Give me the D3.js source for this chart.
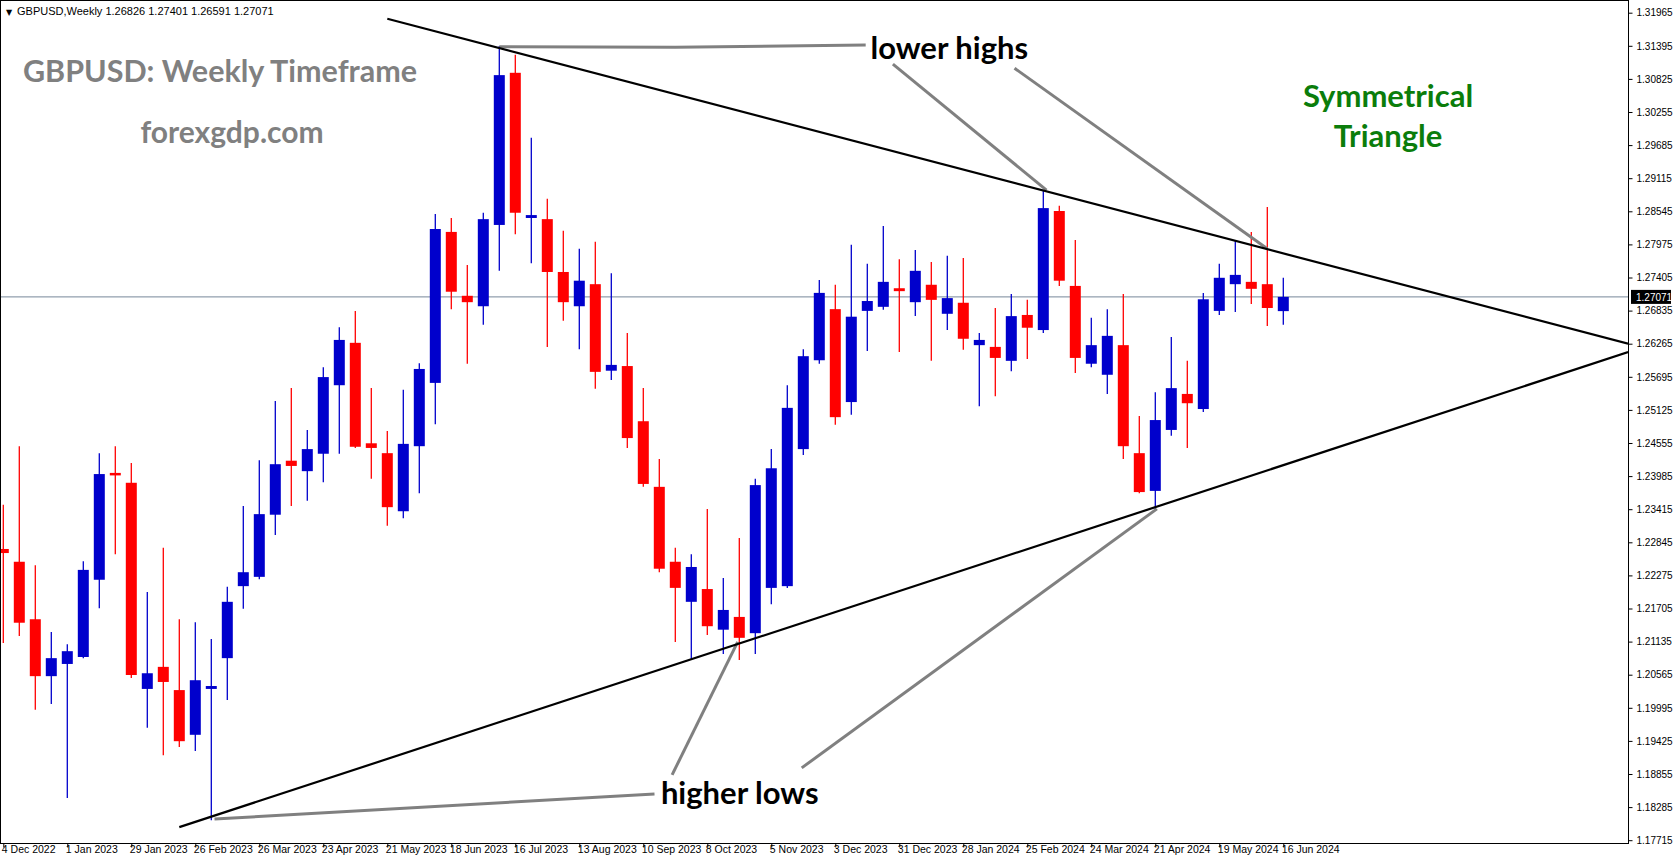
<!DOCTYPE html>
<html>
<head>
<meta charset="utf-8">
<script src="https://cdn.jsdelivr.net/npm/d3@7"></script>
<style>
  body { margin: 0; background: #fff; }
  svg { display: block; }
</style>
</head>
<body>
<svg id="chart" width="1673" height="861"></svg>
<script>
// weekly GBPUSD candles, 4 Dec 2022 .. 16 Jun 2024
const opens  = [1.2273,1.2251,1.2152,1.2054,1.2075,1.2087,1.2220,1.2404,1.2387,1.2032,1.2070,1.2030,1.1953,1.2032,1.2085,1.2209,1.2225,1.2332,1.2425,1.2407,1.2437,1.2555,1.2628,1.2455,1.2438,1.2338,1.2450,1.2559,1.2819,1.2709,1.2691,1.2831,1.3093,1.2843,1.2841,1.2750,1.2691,1.2729,1.2580,1.2588,1.2493,1.2380,1.2251,1.2182,1.2204,1.2134,1.2156,1.2128,1.2206,1.2209,1.2445,1.2598,1.2686,1.2526,1.2683,1.2690,1.2722,1.2698,1.2728,1.2678,1.2697,1.2624,1.2621,1.2597,1.2676,1.2650,1.2855,1.2726,1.2592,1.2573,1.2624,1.2438,1.2373,1.2478,1.2540,1.2514,1.2683,1.2729,1.2733,1.2729,1.26826];
const highs  = [1.2349,1.2450,1.2245,1.2130,1.2109,1.2252,1.2438,1.2450,1.2421,1.2199,1.2275,1.2152,1.2147,1.2118,1.2208,1.2347,1.2426,1.2528,1.2550,1.2478,1.2586,1.2655,1.2683,1.2550,1.2476,1.2547,1.2593,1.2850,1.2843,1.2762,1.2852,1.3139,1.3124,1.2981,1.2876,1.2821,1.2790,1.2802,1.2748,1.2645,1.2550,1.2428,1.2275,1.2264,1.2342,1.2223,1.2292,1.2394,1.2445,1.2555,1.2617,1.2736,1.2728,1.2797,1.2764,1.2829,1.2772,1.2788,1.2767,1.2778,1.2774,1.2645,1.2688,1.2712,1.2702,1.2891,1.2864,1.2805,1.2671,1.2686,1.2712,1.2502,1.2543,1.2638,1.2597,1.2714,1.2764,1.2805,1.2819,1.2862,1.27401];
const lows   = [1.2111,1.2123,1.1996,1.2006,1.1844,1.2085,1.2171,1.2264,1.2051,1.1965,1.1918,1.1932,1.1925,1.1806,1.2013,1.2170,1.2221,1.2297,1.2347,1.2356,1.2388,1.2437,1.2447,1.2394,1.2313,1.2326,1.2369,1.2488,1.2686,1.2592,1.2659,1.2752,1.2815,1.2765,1.2621,1.2666,1.2617,1.2549,1.2564,1.2447,1.2380,1.2233,1.2113,1.2082,1.2125,1.2092,1.2082,1.2092,1.2178,1.2206,1.2435,1.2592,1.2487,1.2504,1.2614,1.2685,1.2612,1.2674,1.2597,1.2650,1.2616,1.2519,1.2536,1.2579,1.2600,1.2645,1.2726,1.2576,1.2586,1.2540,1.2428,1.2369,1.2342,1.2468,1.2447,1.2509,1.2676,1.2681,1.2695,1.2657,1.26591];
const closes = [1.2266,1.2146,1.2054,1.2085,1.2097,1.2237,1.2402,1.2400,1.2056,1.2059,1.2044,1.1942,1.2047,1.2037,1.2182,1.2233,1.2333,1.2419,1.2416,1.2445,1.2569,1.2633,1.2449,1.2447,1.2345,1.2454,1.2583,1.2824,1.2716,1.2698,1.2841,1.3089,1.2852,1.2848,1.2750,1.2698,1.2735,1.2578,1.2590,1.2464,1.2385,1.2239,1.2206,1.2242,1.2140,1.2168,1.2120,1.2383,1.2412,1.2516,1.2605,1.2714,1.2500,1.2673,1.2700,1.2733,1.2717,1.2752,1.2702,1.2705,1.2635,1.2633,1.2602,1.2674,1.2654,1.2860,1.2735,1.2602,1.2624,1.2640,1.2450,1.2371,1.2495,1.2550,1.2524,1.2703,1.2740,1.2745,1.2721,1.2688,1.27071];

const dateLabels = ["4 Dec 2022","1 Jan 2023","29 Jan 2023","26 Feb 2023","26 Mar 2023","23 Apr 2023","21 May 2023","18 Jun 2023","16 Jul 2023","13 Aug 2023","10 Sep 2023","8 Oct 2023","5 Nov 2023","3 Dec 2023","31 Dec 2023","28 Jan 2024","25 Feb 2024","24 Mar 2024","21 Apr 2024","19 May 2024","16 Jun 2024"];
const priceTicks = d3.range(26).map(k => +(1.31965 - k * 0.0057).toFixed(5));
const lastPrice = 1.27071;

// trend lines and notes, as [week index, price]
const upperLine = [[24.0, 1.3186], [101.55, 1.26265]];
const lowerLine = [[11.0, 1.1794], [101.55, 1.2612]];
const highNotes = [
  [[31.0, 1.3138], [42.0, 1.3137], [53.9, 1.3141]],
  [[55.6, 1.3108], [65.2, 1.2891]],
  [[63.2, 1.3101], [79.0, 1.2790]]
];
const lowNotes = [
  [[13.2, 1.1808], [40.7, 1.1851]],
  [[41.8, 1.1884], [45.9, 1.2113]],
  [[49.9, 1.1896], [72.1, 1.2342]]
];

const plotRight = 1628, plotBottom = 843;

const svg = d3.select("#chart");

const x = d3.scaleLinear().domain([0, 100]).range([3.3, 1603.3]);
const y = d3.scaleLinear().domain([1.17715, 1.31965]).range([840.2, 12.7]);

const plot = svg.append("g");
plot.append("clipPath").attr("id", "clip")
  .append("rect").attr("x", 0).attr("y", 0).attr("width", plotRight).attr("height", plotBottom);

// current price line
plot.append("line")
  .attr("x1", 0).attr("x2", plotRight)
  .attr("y1", y(lastPrice)).attr("y2", y(lastPrice))
  .attr("stroke", "#778899").attr("stroke-width", 1);

const candles = d3.range(opens.length).map(i => ({
  i: i, o: opens[i], h: highs[i], l: lows[i], c: closes[i]
}));

const cg = plot.append("g").attr("clip-path", "url(#clip)");
cg.selectAll(".wick")
  .data(candles).enter().append("line")
  .attr("x1", d => x(d.i)).attr("x2", d => x(d.i))
  .attr("y1", d => y(d.h)).attr("y2", d => y(d.l))
  .attr("stroke", d => d.c >= d.o ? "#0000cc" : "#ff0000")
  .attr("stroke-width", 1.3);
cg.selectAll(".body")
  .data(candles).enter().append("rect")
  .attr("x", d => x(d.i) - 5.5).attr("width", 11)
  .attr("y", d => y(Math.max(d.o, d.c)))
  .attr("height", d => Math.max(2.5, Math.abs(y(d.o) - y(d.c))))
  .attr("fill", d => d.c >= d.o ? "#0000cc" : "#ff0000");

const line = d3.line().x(d => x(d[0])).y(d => y(d[1]));

// annotation guides
const ng = plot.append("g").attr("clip-path", "url(#clip)");
ng.selectAll(".note")
  .data(highNotes.concat(lowNotes)).enter().append("path")
  .attr("d", line)
  .attr("fill", "none").attr("stroke", "#808080").attr("stroke-width", 3);

// triangle
ng.selectAll(".tri")
  .data([upperLine, lowerLine]).enter().append("path")
  .attr("d", line)
  .attr("fill", "none").attr("stroke", "#000").attr("stroke-width", 2.2);

// texts
svg.append("text").attr("x", 6).attr("y", 15)
  .attr("font-family", "DejaVu Sans, sans-serif").attr("font-size", 8).text("\u25BC");
svg.append("text").attr("x", 17).attr("y", 15)
  .attr("font-family", "Liberation Sans, Arial, sans-serif").attr("font-size", 11)
  .text("GBPUSD,Weekly  1.26826 1.27401 1.26591 1.27071");

svg.append("text").attr("x", 220).attr("y", 82).attr("text-anchor", "middle")
  .attr("font-family", "Lato, sans-serif").attr("font-weight", "bold").attr("font-size", 30.5)
  .attr("fill", "#808080").text("GBPUSD: Weekly Timeframe");
svg.append("text").attr("x", 232).attr("y", 143).attr("text-anchor", "middle")
  .attr("font-family", "Lato, sans-serif").attr("font-weight", "bold").attr("font-size", 30)
  .attr("fill", "#808080").text("forexgdp.com");

svg.append("text").attr("x", 1388).attr("y", 107).attr("text-anchor", "middle")
  .attr("font-family", "Lato, sans-serif").attr("font-weight", "bold").attr("font-size", 31)
  .attr("fill", "#0b7d0b").text("Symmetrical");
svg.append("text").attr("x", 1388).attr("y", 147).attr("text-anchor", "middle")
  .attr("font-family", "Lato, sans-serif").attr("font-weight", "bold").attr("font-size", 31)
  .attr("fill", "#0b7d0b").text("Triangle");

svg.append("text").attr("x", x(54.2)).attr("y", y(1.3134) + 10)
  .attr("font-family", "Lato, sans-serif").attr("font-weight", "bold").attr("font-size", 31)
  .attr("fill", "#000").text("lower highs");
svg.append("text").attr("x", x(41.1)).attr("y", y(1.1851) + 10)
  .attr("font-family", "Lato, sans-serif").attr("font-weight", "bold").attr("font-size", 31)
  .attr("fill", "#000").text("higher lows");

// frame
svg.append("rect").attr("x", 0.5).attr("y", 0.5)
  .attr("width", plotRight).attr("height", plotBottom)
  .attr("fill", "none").attr("stroke", "#000");

// price axis
const yAxis = d3.axisRight(y).tickValues(priceTicks)
  .tickSize(4).tickFormat(d3.format(".5f"));
const ya = svg.append("g").attr("transform", "translate(" + (plotRight + 0.5) + ",0)").call(yAxis);
ya.select(".domain").remove();
ya.selectAll("text").attr("font-family", "Liberation Sans, Arial, sans-serif").attr("font-size", 10).attr("x", 8);

const tag = svg.append("g").attr("transform", "translate(" + (plotRight + 3) + "," + y(lastPrice) + ")");
tag.append("rect").attr("x", 0).attr("y", -7).attr("width", 40).attr("height", 14).attr("fill", "#000");
tag.append("text").attr("x", 5).attr("y", 4).attr("fill", "#fff")
  .attr("font-family", "Liberation Sans, Arial, sans-serif").attr("font-size", 10).text(lastPrice.toFixed(5));

// date axis
const xAxis = d3.axisBottom(x).tickValues(dateLabels.map((d, k) => k * 4))
  .tickSize(4).tickFormat((d, k) => dateLabels[k]);
const xa = svg.append("g").attr("transform", "translate(0," + (plotBottom + 0.5) + ")").call(xAxis);
xa.select(".domain").remove();
xa.selectAll("text").attr("font-family", "Liberation Sans, Arial, sans-serif").attr("font-size", 10.5)
  .attr("text-anchor", "start").attr("dy", "0.6em").attr("y", 3).attr("x", -2);
</script>
</body>
</html>
